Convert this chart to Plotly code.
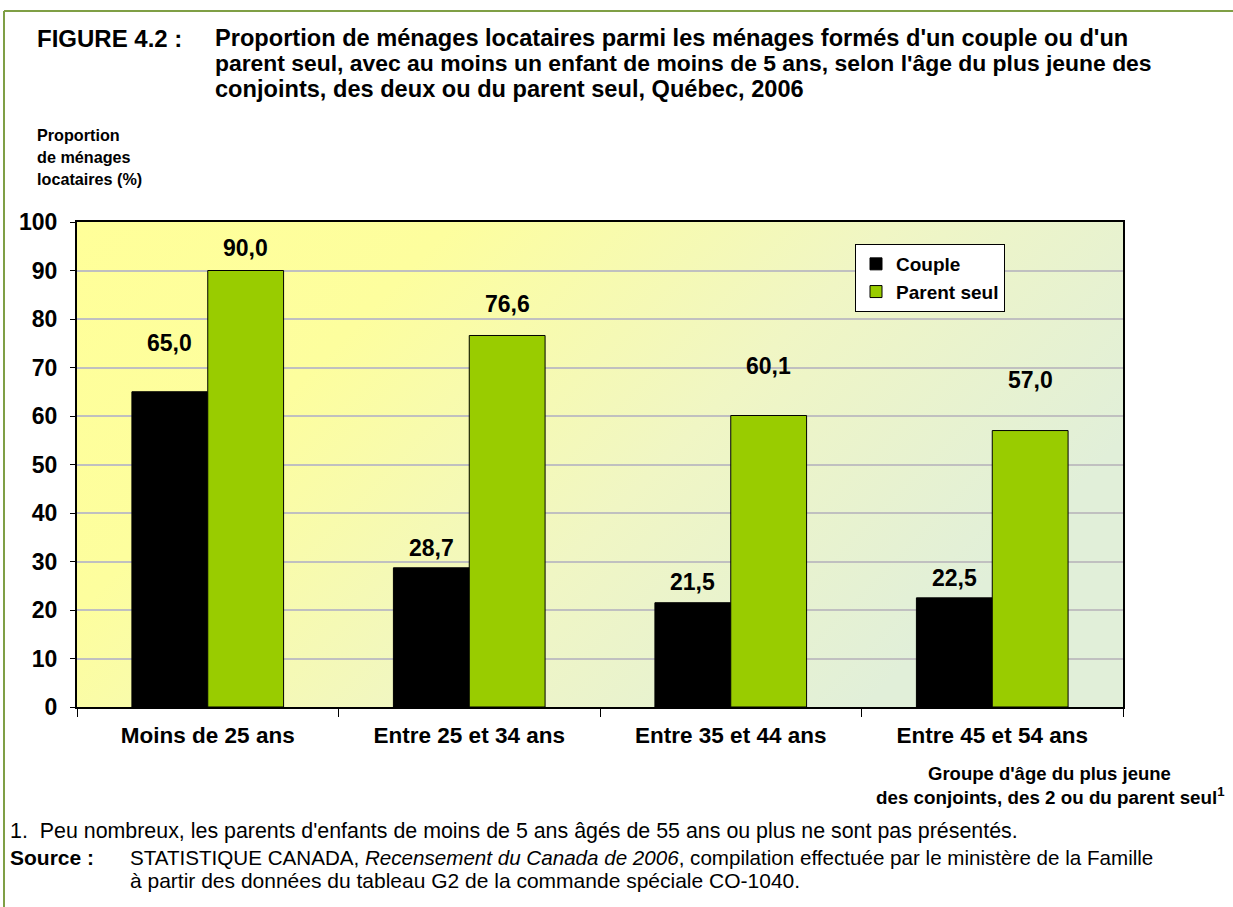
import base64
import plotly.graph_objects as go

categories = ["Moins de 25 ans", "Entre 25 et 34 ans", "Entre 35 et 44 ans", "Entre 45 et 54 ans"]
couple = [65.0, 28.7, 21.5, 22.5]
parent_seul = [90.0, 76.6, 60.1, 57.0]
y_ticks = [0, 10, 20, 30, 40, 50, 60, 70, 80, 90, 100]

# style: vertical lift (px) of each value label above its bar top, as placed in the original
couple_label_lift = [49, 20, 21, 20]
parent_label_lift = [23, 31, 50, 51]

FONT = "Liberation Sans, Arial, sans-serif"
W, H = 1233, 907
L, R, T, B = 77, 1123, 222, 707
HALF_BAR = 38


def px(x):
    return (x - L) / (R - L)


def py(y):
    return (B - y) / (B - T)


def fmt(v):
    return f"{v:.1f}".replace(".", ",")


fig = go.Figure()
fig.add_trace(go.Bar(
    name="Couple", x=categories, y=couple,
    marker=dict(color="#000000", line=dict(color="#000000", width=1)),
    legendgroup="a", hoverinfo="x+y",
))
fig.add_trace(go.Bar(
    name="Parent seul", x=categories, y=parent_seul,
    marker=dict(color="#99CC00", line=dict(color="#000000", width=1)),
    legendgroup="b", hoverinfo="x+y",
))

svg = ('<svg xmlns="http://www.w3.org/2000/svg" width="200" height="100" viewBox="0 0 200 100" '
       'preserveAspectRatio="none"><defs><linearGradient id="g" x1="0" y1="0" x2="1" y2="0.45">'
       '<stop offset="0" stop-color="#FFFF99"/><stop offset="0.3" stop-color="#FDFE9E"/>'
       '<stop offset="0.65" stop-color="#F0F6C4"/><stop offset="1" stop-color="#E1EFD9"/>'
       '</linearGradient></defs><rect width="200" height="100" fill="url(#g)"/></svg>')
src = "data:image/svg+xml;base64," + base64.b64encode(svg.encode()).decode()

annotations = []

# value labels, anchored on the data through the axes
for series, lifts, shift in ((couple, couple_label_lift, -HALF_BAR),
                             (parent_seul, parent_label_lift, HALF_BAR)):
    for cat, val, lift in zip(categories, series, lifts):
        annotations.append(dict(
            text="<b>" + fmt(val) + "</b>", x=cat, y=val, xref="x", yref="y",
            xshift=shift, yshift=lift, xanchor="center", yanchor="middle",
            showarrow=False, font=dict(family=FONT, size=23, color="#000000"),
        ))


def ann(text, x, y, size, xanchor="left"):
    annotations.append(dict(
        text=text, x=px(x), y=py(y), xref="paper", yref="paper",
        xanchor=xanchor, yanchor="middle", showarrow=False,
        font=dict(family=FONT, size=size, color="#000000"),
    ))


# title
ann("<b>FIGURE 4.2 :</b>", 35, 38, 24)
ann("<b>Proportion de ménages locataires parmi les ménages formés d'un couple ou d'un</b>", 213, 38, 23.6)
ann("<b>parent seul, avec au moins un enfant de moins de 5 ans, selon l'âge du plus jeune des</b>", 213, 63, 22.9)
ann("<b>conjoints, des deux ou du parent seul, Québec, 2006</b>", 213, 89, 23.6)
# y axis title
ann("<b>Proportion</b>", 35, 135, 16.2)
ann("<b>de ménages</b>", 35, 157, 16.2)
ann("<b>locataires (%)</b>", 35, 179, 16.2)
# x axis title
ann("<b>Groupe d'âge du plus jeune</b>", 1049, 773, 18.5, xanchor="center")
ann("<b>des conjoints, des 2 ou du parent seul<sup>1</sup></b>", 1050, 796, 18.8, xanchor="center")
# footnotes
ann("1.  Peu nombreux, les parents d'enfants de moins de 5 ans âgés de 55 ans ou plus ne sont pas présentés.", 8, 831, 21.4)
ann("<b>Source :</b>", 8, 857, 21)
ann("STATISTIQUE CANADA, <i>Recensement du Canada de 2006</i>, compilation effectuée par le ministère de la Famille", 128, 857, 20.6)
ann("à partir des données du tableau G2 de la commande spéciale CO-1040.", 128, 880, 21)

shapes = [
    dict(type="line", xref="paper", yref="paper", x0=px(4), x1=px(1240), y0=py(11), y1=py(11),
         line=dict(color="#7F9F45", width=2)),
    dict(type="line", xref="paper", yref="paper", x0=px(4), x1=px(4), y0=py(11), y1=py(915),
         line=dict(color="#7F9F45", width=2)),
]

fig.update_layout(
    width=W, height=H,
    margin=dict(l=L, r=W - R, t=T, b=H - B, pad=0),
    paper_bgcolor="#FFFFFF", plot_bgcolor="rgba(0,0,0,0)",
    font=dict(family=FONT, color="#000000"),
    barmode="group", bargap=0.42, bargroupgap=0,
    showlegend=True,
    legend=dict(x=px(855), y=py(244), xanchor="left", yanchor="top",
                bgcolor="#FFFFFF", bordercolor="#000000", borderwidth=1,
                font=dict(family=FONT, size=19, color="#000000", weight="bold"),
                tracegroupgap=0, itemwidth=30, entrywidth=118, entrywidthmode="pixels"),
    images=[dict(source=src, xref="paper", yref="paper", x=0, y=1, sizex=1, sizey=1,
                 sizing="stretch", layer="below", xanchor="left", yanchor="top")],
    annotations=annotations,
    shapes=shapes,
    xaxis=dict(type="category", categoryorder="array", categoryarray=categories,
               showline=True, linecolor="#000000", linewidth=2, mirror=True,
               ticks="outside", tickson="boundaries", ticklen=8, tickcolor="#000000",
               ticklabelstandoff=7,
               tickfont=dict(family=FONT, size=22.5, color="#000000", weight="bold"),
               showgrid=False, zeroline=False),
    yaxis=dict(range=[0, 100], tickvals=y_ticks, ticktext=[str(v) for v in y_ticks],
               showline=True, linecolor="#000000", linewidth=2, mirror=True,
               ticks="outside", ticklen=5, tickcolor="#000000", ticklabelstandoff=8,
               tickfont=dict(family=FONT, size=23, color="#000000", weight="bold"),
               showgrid=True, gridcolor="#C0C0C0", gridwidth=1.5, zeroline=False),
)

fig.write_html("out.html", config={"displayModeBar": False},
               post_script="document.body.style.margin='0';document.body.style.overflow='hidden';")
